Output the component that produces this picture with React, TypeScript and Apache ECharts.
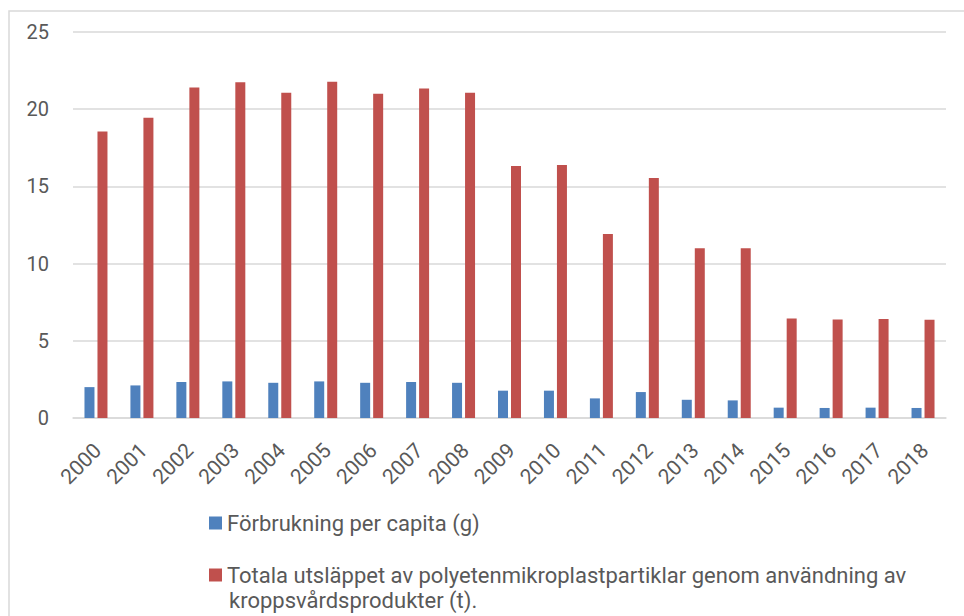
import React, { useEffect, useRef } from "react";
import * as echarts from "echarts";

const years = ["2000","2001","2002","2003","2004","2005","2006","2007","2008","2009","2010","2011","2012","2013","2014","2015","2016","2017","2018"];
const perCapita = [2.0,2.11,2.33,2.37,2.28,2.37,2.28,2.33,2.28,1.77,1.77,1.27,1.68,1.18,1.14,0.67,0.65,0.67,0.65];
const totalEmission = [18.56,19.44,21.41,21.75,21.06,21.77,21.0,21.34,21.06,16.32,16.38,11.92,15.54,11.0,11.0,6.44,6.38,6.42,6.36];
const yTicks = { min: 0, max: 25, interval: 5 };
const nameA = "Förbrukning per capita (g)";
const nameB = "Totala utsläppet av polyetenmikroplastpartiklar genom användning av kroppsvårdsprodukter (t).";
const nameBLine1 = "Totala utsläppet av polyetenmikroplastpartiklar genom användning av";
const nameBLine2 = "kroppsvårdsprodukter (t).";

const FONT = "Roboto, 'Noto Sans', sans-serif";
const TEXT = "#595959";

export default function App() {
  const ref = useRef<HTMLDivElement>(null);
  useEffect(() => {
    if (!ref.current) return;
    const chart = echarts.init(ref.current, null, { renderer: "svg" });
    chart.setOption({
      animation: false,
      backgroundColor: "#ffffff",
      textStyle: { fontFamily: FONT },
      graphic: [
        {
          type: "rect",
          shape: { x: 9, y: 11, width: 1000, height: 700 },
          style: { fill: "none", stroke: "#D9D9D9", lineWidth: 1.5 },
          silent: true,
          z: -1,
        },
        {
          type: "text",
          left: 229,
          top: 589,
          style: { text: nameBLine2, fontSize: 22, fill: TEXT, fontFamily: FONT },
          silent: true,
        },
      ],
      grid: { left: 73, right: 18, top: 32, bottom: 198, containLabel: false },
      legend: [
        {
          data: [nameA],
          orient: "vertical",
          left: 209,
          top: 510,
          padding: 0,
          icon: "rect",
          itemWidth: 13,
          itemHeight: 13,
          itemGap: 0,
          itemTextGap: 7,
          textStyle: { fontSize: 22, color: TEXT, fontFamily: FONT, lineHeight: 26 },
          selectedMode: false,
        },
        {
          data: [nameB],
          orient: "vertical",
          left: 209,
          top: 562,
          padding: 0,
          icon: "rect",
          itemWidth: 13,
          itemHeight: 13,
          itemGap: 0,
          itemTextGap: 7,
          formatter: () => nameBLine1,
          textStyle: { fontSize: 22, color: TEXT, fontFamily: FONT, lineHeight: 26 },
          selectedMode: false,
        },
      ],
      xAxis: {
        type: "category",
        data: years,
        axisLine: { show: true, lineStyle: { color: "#D9D9D9", width: 1.5 } },
        axisTick: { show: false },
        axisLabel: {
          interval: 0,
          rotate: 45,
          fontSize: 21,
          color: TEXT,
          fontFamily: FONT,
          margin: 16,
          align: "right",
          verticalAlign: "top",
          padding: [0, 8, 0, 0],
        },
      },
      yAxis: {
        type: "value",
        min: yTicks.min,
        max: yTicks.max,
        interval: yTicks.interval,
        axisLine: { show: false },
        axisTick: { show: false },
        axisLabel: { fontSize: 20, color: TEXT, fontFamily: FONT, margin: 24 },
        splitLine: { lineStyle: { color: "#D9D9D9", width: 1.5 } },
      },
      series: [
        {
          name: nameA,
          type: "bar",
          data: perCapita,
          barWidth: 10,
          barGap: "30%",
          itemStyle: { color: "#4F81BD" },
        },
        {
          name: nameB,
          type: "bar",
          data: totalEmission,
          barWidth: 10,
          itemStyle: { color: "#C0504D" },
        },
      ],
    });
    return () => chart.dispose();
  }, []);
  return <div ref={ref} style={{ width: 964, height: 616, position: "absolute", left: 0, top: 0 }} />;
}
